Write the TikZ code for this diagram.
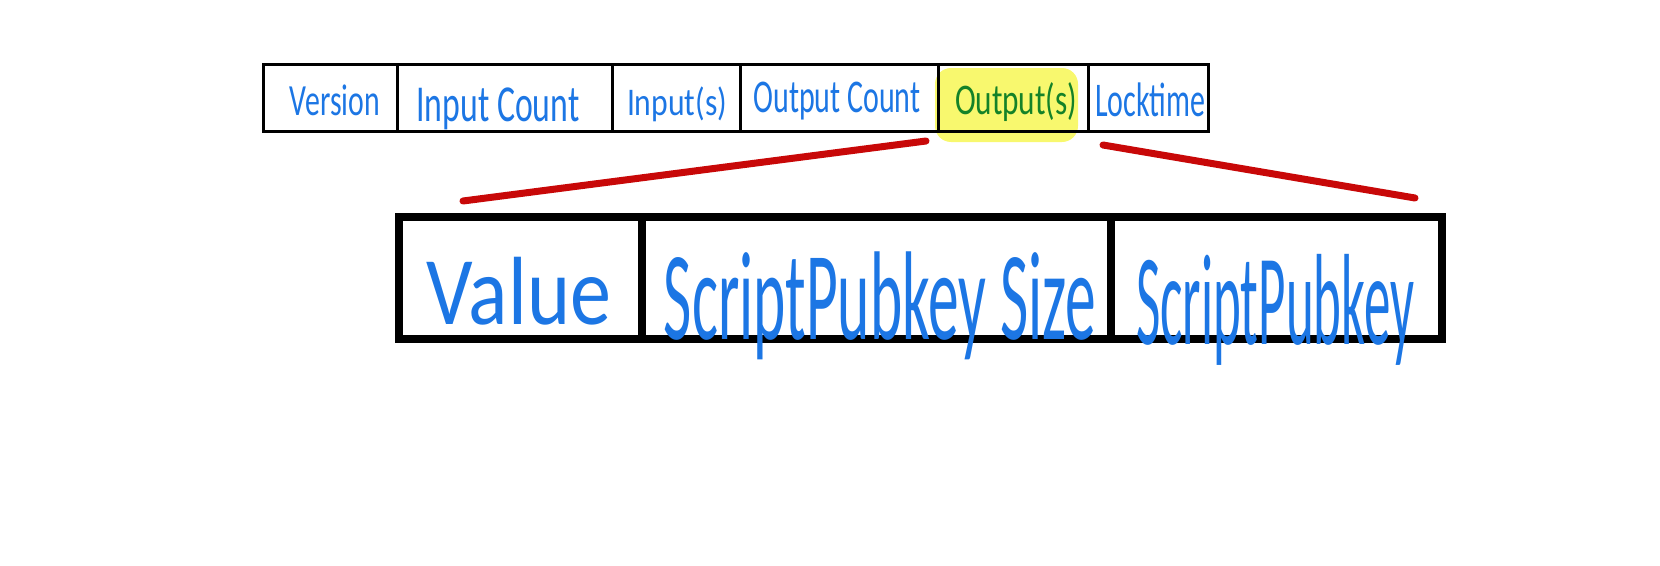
\documentclass[tikz,border=0pt]{standalone}
\usepackage{graphicx}
\usepackage{fontspec}
\setmainfont{Carlito}
\definecolor{ink}{RGB}{28,118,228}
\definecolor{inkgreen}{RGB}{20,130,40}
\definecolor{hl}{RGB}{248,248,110}
\definecolor{redline}{RGB}{200,8,8}
\newcommand{\hw}[3]{\resizebox*{#1pt}{#2pt}{#3}}
\tikzset{
  topcell/.style={draw=black, line width=3pt, minimum height=67pt, inner sep=0pt},
  botcell/.style={draw=black, line width=8pt, minimum height=122pt, inner sep=0pt},
  lbl/.style={inner sep=0pt, text=ink},
  zoomline/.style={draw=redline, line width=7pt, line cap=round}
}
\begin{document}
\begin{tikzpicture}[x=1pt,y=-1pt]
\useasboundingbox (0,0) rectangle (1660,565);
% highlight behind Output(s)
\fill[hl, rounded corners=16pt] (935,68) rectangle (1078,142);
% top row
\node[topcell, minimum width=134pt] (version) at (330,97.5) {};
\node[topcell, minimum width=215pt] (incount) at (504.5,97.5) {};
\node[topcell, minimum width=128pt] (inputs) at (676,97.5) {};
\node[topcell, minimum width=198pt] (outcount) at (839,97.5) {};
\node[topcell, minimum width=150pt] (outputs) at (1013,97.5) {};
\node[topcell, minimum width=120pt] (locktime) at (1148,97.5) {};
\node[lbl] (tversion) at (335,100) {\hw{90}{31}{Version}};
\node[lbl] (tincount) at (498,109) {\hw{163}{42}{Input Count}};
\node[lbl] (tinputs) at (677,104.5) {\hw{100}{35}{Input(s)}};
\node[lbl] (toutcount) at (837,101) {\hw{167}{38}{Output Count}};
\node[lbl, text=inkgreen] (toutputs) at (1016,102.5) {\hw{122}{39}{Output(s)}};
\node[lbl] (tlocktime) at (1150,100) {\hw{110}{34}{Locktime}};
% bottom row
\node[botcell, minimum width=243pt] (value) at (520.5,278) {};
\node[botcell, minimum width=469pt] (spksize) at (876.5,278) {};
\node[botcell, minimum width=331pt] (spk) at (1276.5,278) {};
\node[lbl] (tvalue) at (519,291) {\hw{184}{68}{Value}};
\node[lbl] (tspksize) at (880,306) {\hw{432}{108}{ScriptPubkey Size}};
\node[lbl] (tspk) at (1275,309.5) {\hw{278}{111}{ScriptPubkey}};
% zoom lines
\coordinate (l1) at (926,141);
\coordinate (l2) at (463,201);
\coordinate (r1) at (1103,145);
\coordinate (r2) at (1415,198);
\draw[zoomline] (l1) -- (l2);
\draw[zoomline] (r1) -- (r2);
\end{tikzpicture}
\end{document}
